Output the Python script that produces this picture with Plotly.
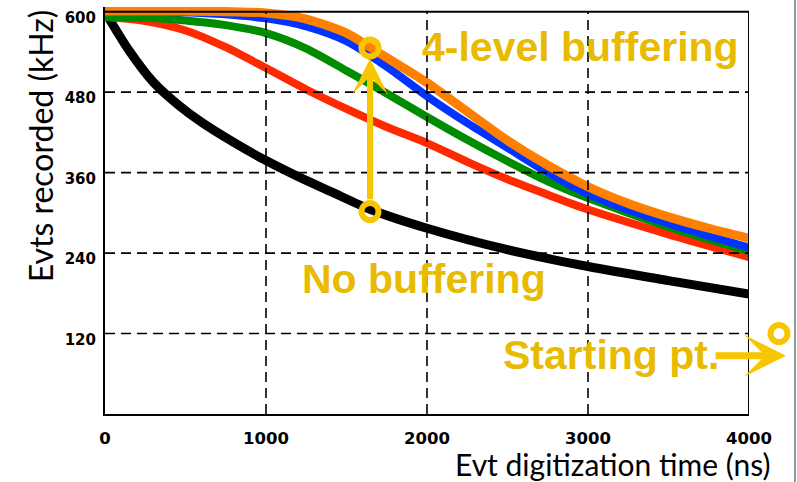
import plotly.graph_objects as go

# ---- data ----
black_x = [0, 150, 300, 450, 600, 800, 1000, 1200, 1400, 1650, 2000, 2500, 3000, 3500, 4000]
black_y = [600, 542, 495, 462, 435, 405, 378, 354, 332, 305, 277, 245, 220, 199, 179]

red_x = [0, 250, 500, 750, 1000, 1250, 1500, 1750, 2000, 2250, 2500, 2750, 3000, 3500, 4000]
red_y = [592, 586, 572, 547, 516, 484, 455, 428, 404, 376, 350, 327, 305, 268, 234]

green_x = [0, 250, 500, 750, 1000, 1250, 1500, 1750, 2000, 2250, 2500, 2750, 3000, 3500, 4000]
green_y = [592, 591, 587, 580, 568, 545, 512, 478, 443, 409, 377, 347, 322, 279, 243]

blue_x = [0, 500, 1000, 1250, 1500, 1750, 2000, 2250, 2500, 2750, 3000, 3500, 4000]
blue_y = [600, 599, 590, 578, 556, 518, 474, 434, 397, 360, 328, 284, 248]

orange_x = [0, 500, 1000, 1250, 1500, 1646, 1800, 2000, 2250, 2500, 2750, 3000, 3250, 3500, 3750, 4000]
orange_y = [601, 601, 598, 589, 568, 547, 524, 494, 451, 408, 371, 339, 314, 294, 277, 262]

x_ticks = [0, 1000, 2000, 3000, 4000]
y_ticks = [120, 240, 360, 480, 600]
x_grid = [1000, 2000, 3000]
y_grid = [120, 240, 360, 480]

marker_x = [1646, 1646]
marker_y = [302, 546]
start_y = 120

labels = ["4-level buffering", "No buffering", "Starting pt."]
label_x = [1955, 1210, 2460]
label_y = [548, 201, 88]

YEL = "#F7C600"
TXT = "#E8BA00"

fig = go.Figure()
series = [
    (black_x, black_y, "black", 9),
    (red_x, red_y, "#FF2A00", 8),
    (green_x, green_y, "#008C00", 8),
    (blue_x, blue_y, "#0033FF", 8),
    (orange_x, orange_y, "#FF7F00", 9),
]
for xs, ys, c, w in series:
    fig.add_trace(go.Scatter(x=xs, y=ys, mode="lines",
                             line=dict(color=c, width=w, shape="spline", smoothing=0.8),
                             showlegend=False, hoverinfo="skip"))

fig.add_trace(go.Scatter(x=marker_x, y=marker_y, mode="markers", cliponaxis=False,
                         marker=dict(symbol="circle-open", size=17, color=YEL,
                                     line=dict(width=6, color=YEL)),
                         showlegend=False, hoverinfo="skip"))

shapes = []
dash = "10px,6px"
for gx in x_grid:
    shapes.append(dict(type="line", xref="x", yref="y", x0=gx, x1=gx, y0=0, y1=600,
                       line=dict(color="black", width=1.6, dash=dash), layer="above"))
for gy in y_grid:
    shapes.append(dict(type="line", xref="x", yref="y", x0=0, x1=4000, y0=gy, y1=gy,
                       line=dict(color="black", width=1.6, dash=dash), layer="above"))
# frame: top and right
shapes.append(dict(type="line", xref="x", yref="y", x0=0, x1=4000, y0=600, y1=600,
                   line=dict(color="black", width=2), layer="above"))
shapes.append(dict(type="line", xref="x", yref="y", x0=4000, x1=4000, y0=0, y1=600,
                   line=dict(color="black", width=2), layer="above"))
# image edge line
shapes.append(dict(type="line", xref="paper", yref="paper", x0=1.0714, x1=1.0714, y0=-0.2, y1=1.05,
                   line=dict(color="#333333", width=1)))
# starting point circle (outside plot area)
shapes.append(dict(type="circle", xref="paper", yref="y", xsizemode="pixel", ysizemode="pixel",
                   xanchor=1.0466, yanchor=start_y, x0=-8.5, x1=8.5, y0=-8.5, y1=8.5,
                   line=dict(color=YEL, width=6), layer="above"))

annotations = []
for t, lx, ly in zip(labels, label_x, label_y):
    annotations.append(dict(text=t, x=lx, y=ly, xref="x", yref="y", xanchor="left", yanchor="middle",
                            showarrow=False, font=dict(family="Liberation Sans", size=41, color=TXT, weight="bold")))
# vertical arrow
annotations.append(dict(text="", x=1646, y=530, xref="x", yref="y", axref="x", ayref="y",
                        ax=1646, ay=318, showarrow=True, arrowhead=3, arrowsize=1.0,
                        arrowwidth=6, arrowcolor=YEL))
# horizontal arrow
annotations.append(dict(text="", x=1.0575, y=87, xref="paper", yref="y",
                        ax=-72, ay=0, showarrow=True, arrowhead=3, arrowsize=1.0,
                        arrowwidth=7, arrowcolor=YEL))
# axis titles
annotations.append(dict(text="Evts recorded (kHz)", x=-0.101, y=0.66, xref="paper", yref="paper",
                        textangle=-90, showarrow=False, xanchor="center", yanchor="middle",
                        font=dict(family="Lato", size=32, color="black")))
annotations.append(dict(text="Evt digitization time (ns)", x=1.0373, y=-0.122, xref="paper", yref="paper",
                        showarrow=False, xanchor="right", yanchor="middle",
                        font=dict(family="Lato", size=30, color="black")))

fig.update_layout(
    width=797, height=482,
    margin=dict(l=105, r=48, t=7, b=68),
    paper_bgcolor="white", plot_bgcolor="white",
    shapes=shapes, annotations=annotations,
    xaxis=dict(range=[0, 4000], tickvals=x_ticks, ticktext=[str(v) for v in x_ticks],
               showgrid=False, zeroline=False, showline=True, linecolor="black", linewidth=2,
               ticks="", ticklabelstandoff=8,
               tickfont=dict(family="DejaVu Sans", size=16.5, color="black", weight="bold")),
    yaxis=dict(range=[0, 607], tickvals=y_ticks, ticktext=[str(v) for v in y_ticks],
               showgrid=False, zeroline=False, showline=True, linecolor="black", linewidth=2,
               ticks="", ticklabelstandoff=4, ticklabelshift=6,
               tickfont=dict(family="DejaVu Sans", size=15, color="black", weight="bold")),
)

fig.write_html("out.html", config={"displayModeBar": False},
               post_script="document.body.style.margin='0';")
